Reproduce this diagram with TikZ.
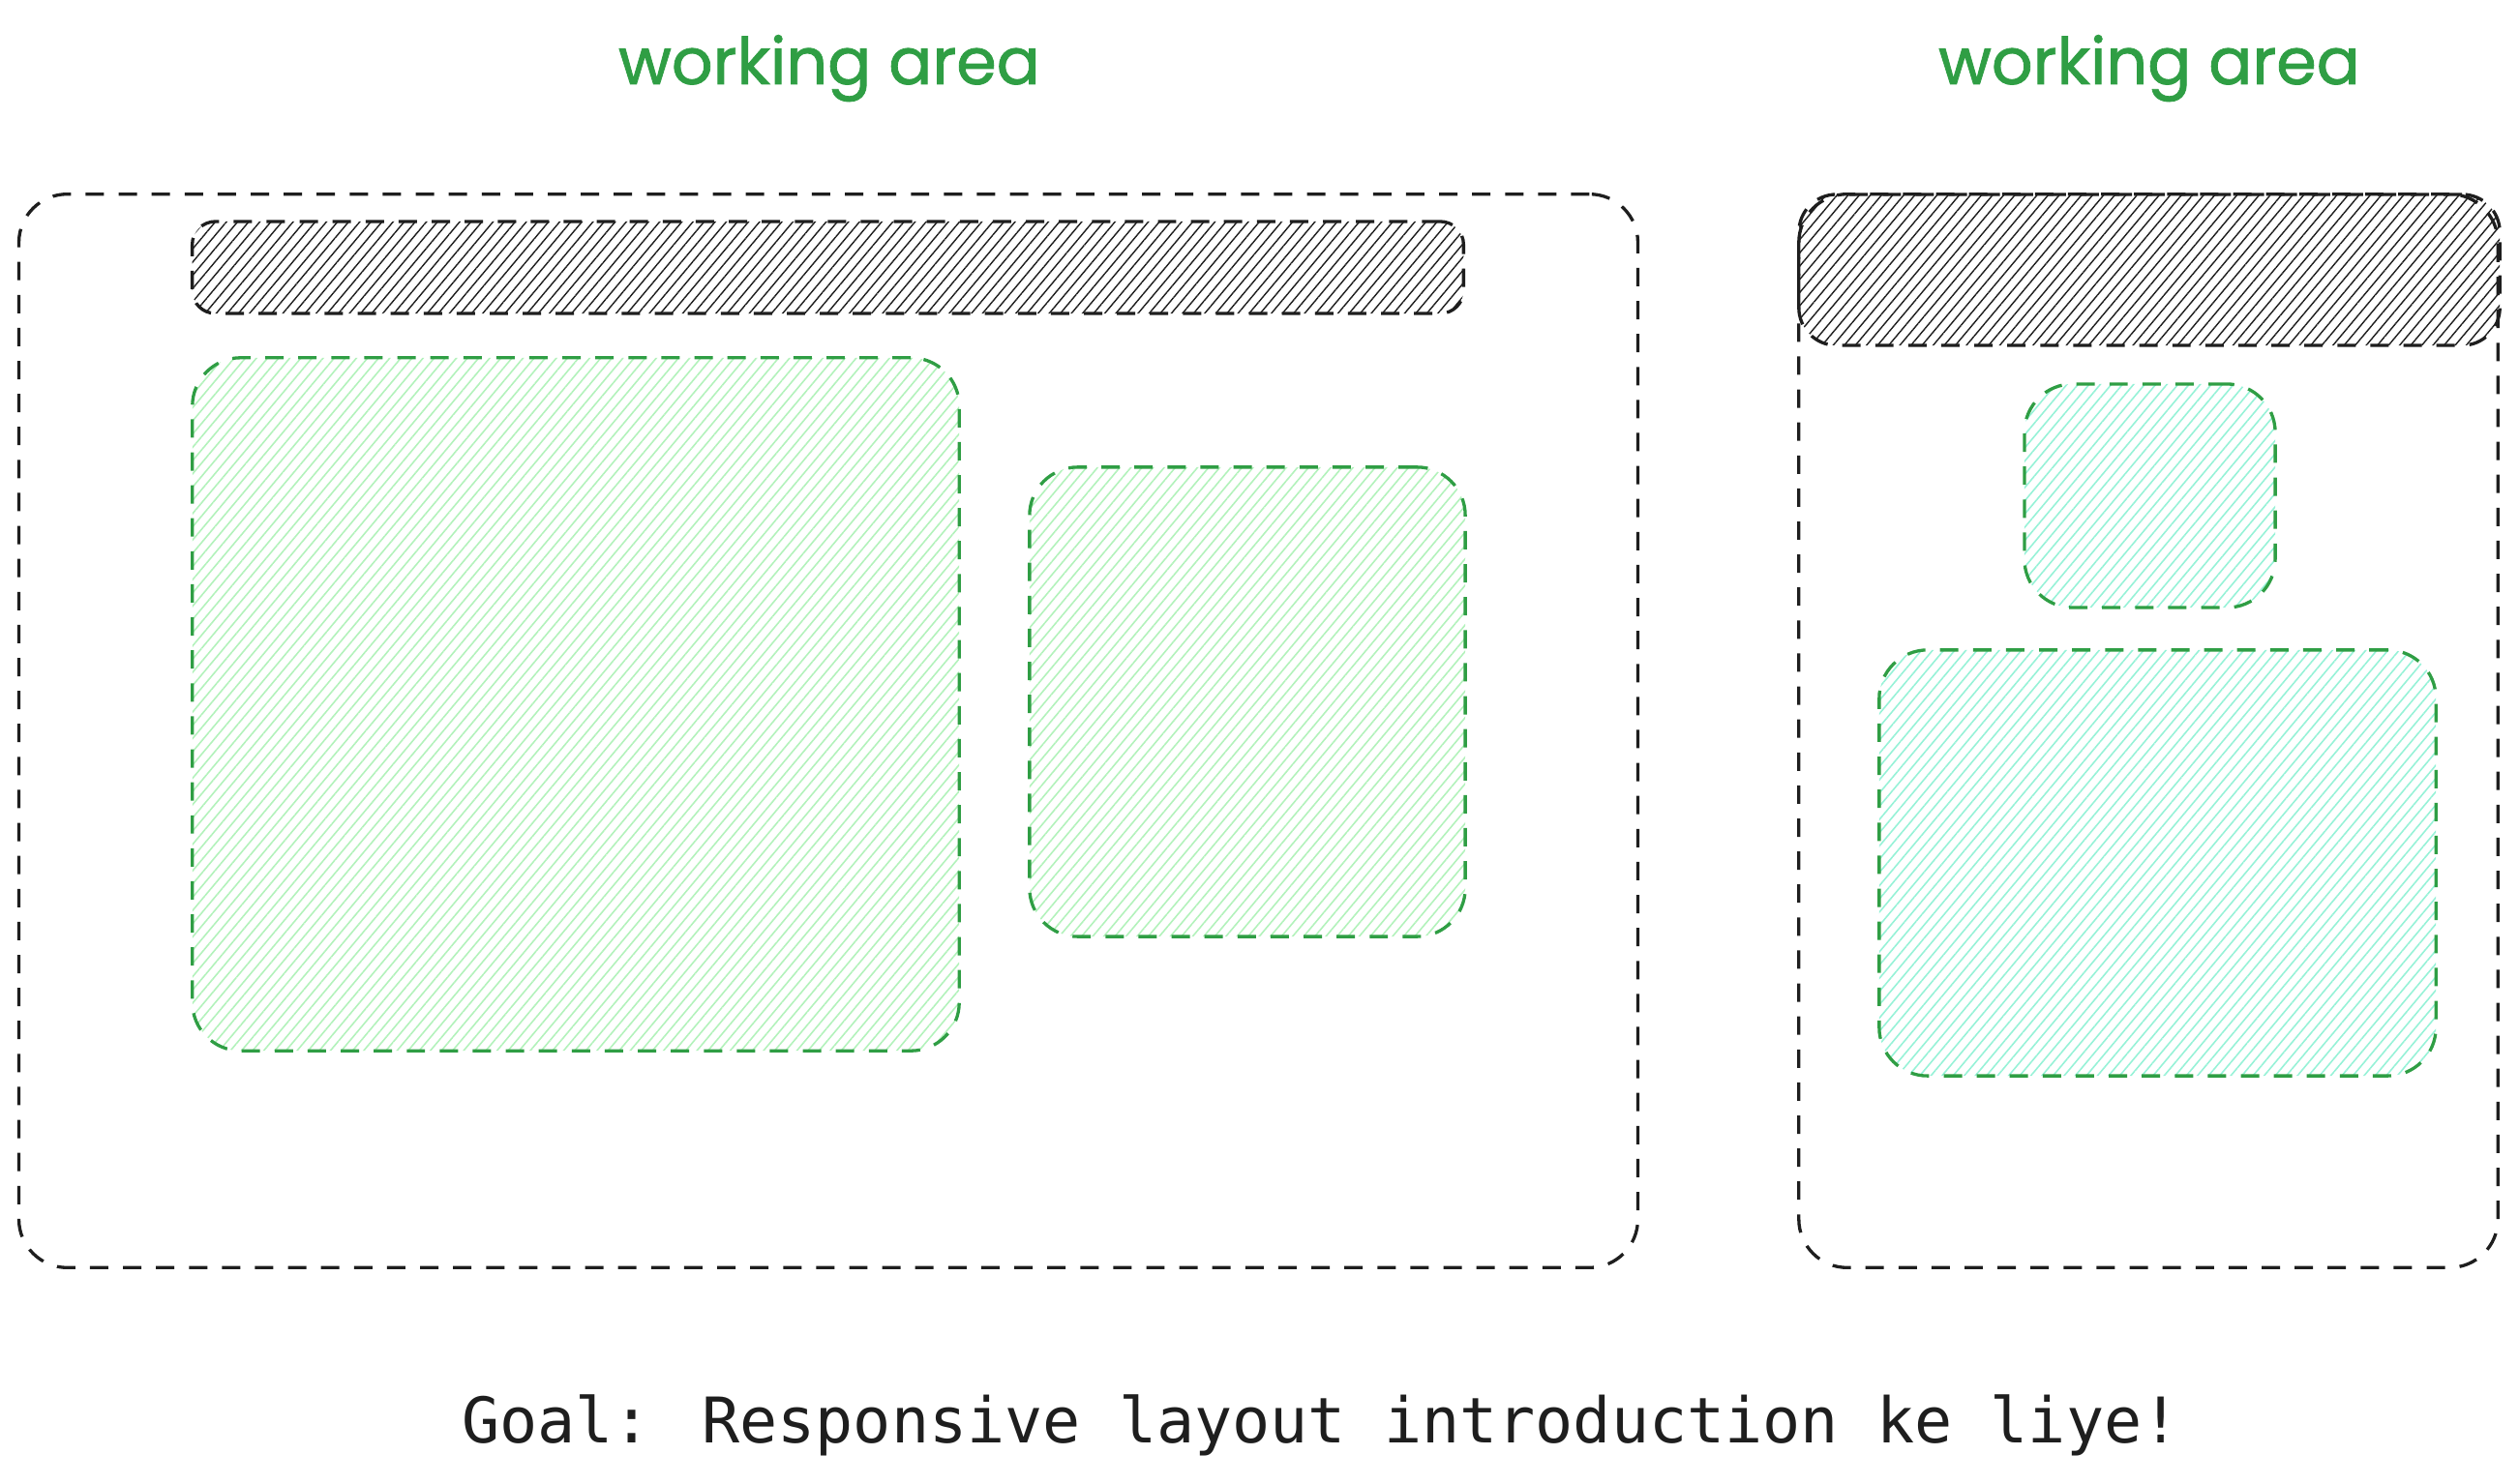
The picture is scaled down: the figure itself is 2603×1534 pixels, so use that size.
\documentclass[tikz,border=0pt]{standalone}
\usepackage{fontspec}
\newfontfamily\titlefont[FakeBold=1.2]{Poppins}
\newfontfamily\goalfont{DejaVu Sans Mono}
\usetikzlibrary{patterns.meta}
\definecolor{exgreen}{HTML}{2F9E44}
\definecolor{exdark}{HTML}{1E1E1E}
\definecolor{lightgreen}{HTML}{B2F2BB}
\definecolor{lightteal}{HTML}{96F2D7}
\begin{document}
\begin{tikzpicture}[x=0.01cm,y=-0.01cm,
  box/.style={draw, rectangle, inner sep=0pt, outer sep=0pt, line width=0.94pt,
    dash pattern=on 5.4pt off 4.3pt},
  frame/.style={box, draw=exdark, rounded corners=0.5cm},
  darkbar/.style={box, draw=exdark, pattern={Lines[angle=50,distance=2.5pt,line width=0.4pt]}, pattern color=exdark},
  greenbox/.style={box, draw=exgreen, rounded corners=0.5cm, pattern={Lines[angle=50,distance=2.5pt,line width=0.45pt]}, pattern color=lightgreen},
  tealbox/.style={box, draw=exgreen, rounded corners=0.5cm, pattern={Lines[angle=50,distance=2.5pt,line width=0.45pt]}, pattern color=lightteal},
  title/.style={anchor=base, inner sep=0pt, text=exgreen, font=\titlefont\fontsize{19}{22}\selectfont}
]
\useasboundingbox (0,0) rectangle (2603,1534);
% left panel
\node[frame, minimum width=16.72cm, minimum height=11.09cm] (louter) at (856,755.5) {};
\node[darkbar, rounded corners=0.24cm, minimum width=13.13cm, minimum height=0.95cm] (lbar) at (855.5,276.5) {};
\node[greenbox, minimum width=7.92cm, minimum height=7.16cm] (lmain) at (595,728) {};
\node[greenbox, minimum width=4.50cm, minimum height=4.85cm] (lside) at (1289,725.5) {};
% right panel
\node[frame, minimum width=7.22cm, minimum height=11.09cm] (router) at (2220,755.5) {};
\node[darkbar, rounded corners=0.39cm, minimum width=7.24cm, minimum height=1.56cm] (rbar) at (2221,279) {};
\node[tealbox, minimum width=2.59cm, minimum height=2.31cm] (rsmall) at (2221.5,512.5) {};
\node[tealbox, minimum width=5.75cm, minimum height=4.40cm] (rbig) at (2229.5,892) {};
% titles
\node[title] (ltitle) at (857,87) {working area};
\node[title] (rtitle) at (2221,87) {working area};
% goal
\node[anchor=base, inner sep=0pt, text=exdark, font=\goalfont\fontsize{18.5}{22}\selectfont] (goal) at (1365,1491) {Goal: Responsive layout introduction ke liye!};
\end{tikzpicture}
\end{document}
